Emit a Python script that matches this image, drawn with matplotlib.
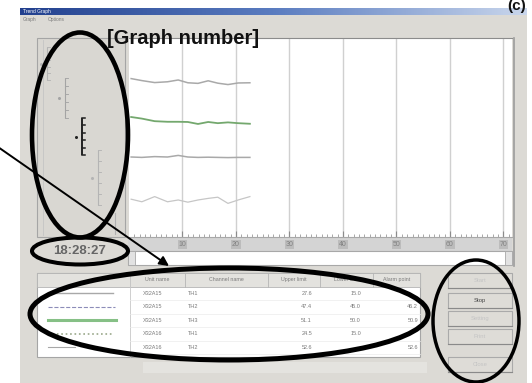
import numpy as np
import matplotlib
matplotlib.use('Agg')
import matplotlib.pyplot as plt
from matplotlib.patches import Rectangle, Ellipse
from matplotlib.colors import LinearSegmentedColormap

plt.rcParams['font.family'] = ['Liberation Sans', 'DejaVu Sans']

W, H = 532, 383

# trend data (elapsed time vs. level, 0-100 of the chart height)
elapsed = [0.4, 2.4, 4.8, 7.2, 9.2, 11.0, 12.9, 14.8, 16.6, 18.5, 20.4, 22.6]
ch1 = [79.6, 78.6, 77.6, 78.0, 78.9, 77.5, 77.2, 78.5, 77.3, 76.6, 77.4, 77.5]
ch2 = [60.3, 59.5, 58.2, 57.9, 57.9, 57.8, 56.8, 57.8, 57.2, 57.6, 57.2, 56.9]
ch3 = [40.2, 40.0, 40.4, 40.2, 41.0, 40.2, 40.0, 40.1, 40.0, 39.9, 40.0, 40.0]
ch4 = [19.0, 17.7, 20.3, 17.7, 18.6, 17.5, 18.6, 19.4, 20.0, 16.9, 18.6, 20.3]

x_ticks = [10, 20, 30, 40, 50, 60, 70]
x_tick_labels = ['10', '20', '30', '40', '50', '60', '70']

# table contents
headers = ['Unit name', 'Channel name', 'Upper limit', 'Lower limit', 'Alarm point']
unit_names = ['X32A15', 'X32A15', 'X32A15', 'X32A16', 'X32A16']
channel_names = ['TH1', 'TH2', 'TH3', 'TH1', 'TH2']
upper_limits = ['27.6', '47.4', '51.1', '24.5', '52.6']
lower_limits = ['15.0', '45.0', '50.0', '15.0', '']
alarm_points = ['', '46.2', '50.9', '', '52.6']
clock = '18:28:27'
buttons = ['Start', 'Stop', 'Setting', 'Print', 'Close']

WIN_BG = '#dcdad5'
GRAY_TXT = '#7a7a7a'

fig = plt.figure(figsize=(W / 100, H / 100), dpi=100)
fig.patch.set_facecolor('white')

# --- window chrome -------------------------------------------------------
ui = fig.add_axes([0, 0, 1, 1])
ui.add_patch(Rectangle((20, 8), 507, 375, fc=WIN_BG, ec='none'))

bar_cmap = LinearSegmentedColormap.from_list('bar', ['#22408e', '#5a7cc0', '#c9d6ec'])
ui.imshow(np.linspace(0, 1, 256)[None, :], cmap=bar_cmap, aspect='auto',
          extent=(20, 527, 15, 8), zorder=1)
ui.text(23, 11.5, 'Trend Graph', fontsize=3.5, color='white', va='center')
ui.text(23, 19, 'Graph', fontsize=3.5, color=GRAY_TXT, va='center')
ui.text(48, 19, 'Options', fontsize=3.5, color=GRAY_TXT, va='center')

# left scale panel
ui.add_patch(Rectangle((37, 38), 88, 199, fc='#d9d7d2', ec='#a5a5a5', lw=0.8))
ui.plot([43, 43], [40, 235], color='#c4c4c4', lw=0.6)
scale_x = [47, 65, 82, 98]
scale_top = [47, 78, 118, 150]
scale_bot = [80, 118, 155, 205]
scale_col = ['#b4b4b4', '#a4a4a4', '#222222', '#b4b4b4']
scale_lw = [0.8, 0.8, 1.4, 0.8]
for sx, st, sb, sc, slw in zip(scale_x, scale_top, scale_bot, scale_col, scale_lw):
    ui.plot([sx, sx], [st, sb], color=sc, lw=slw, solid_capstyle='butt')
    for ty in np.linspace(st, sb, 6):
        ui.plot([sx, sx + 3], [ty, ty], color=sc, lw=slw * 0.8)
    ui.plot(sx - 6, (st + sb) / 2, 'o', ms=2.2, color=sc, mec='none')
ui.plot([115, 115], [213, 234], color='#b0b0b0', lw=0.8)

ui.text(80, 251, clock, fontsize=9.5, fontweight='bold', color='#666666',
        ha='center', va='center')

# axis strip + scroll bar under chart
ui.add_patch(Rectangle((128, 237), 384, 14, fc='#d4d4d4', ec='none'))
ui.add_patch(Rectangle((128, 251), 384, 14, fc='white', ec='#a8a8a8', lw=0.8))
ui.add_patch(Rectangle((128, 251), 7, 14, fc='#e2e2e2', ec='#a8a8a8', lw=0.6))
ui.add_patch(Rectangle((505, 251), 7, 14, fc='#e2e2e2', ec='#a8a8a8', lw=0.6))
ui.plot([514, 514], [38, 266], color='#9c9c9c', lw=1.2)

# channel table
tab_l, tab_r, tab_t, head_b, row_h = 37, 420, 273, 286.5, 13.5
col_edges = [tab_l, 130, 185, 268, 320, 373, tab_r]
ui.add_patch(Rectangle((tab_l, tab_t), tab_r - tab_l, 84, fc='white', ec='#a5a5a5', lw=0.8))
ui.add_patch(Rectangle((tab_l, tab_t), tab_r - tab_l, head_b - tab_t, fc='#e3e2de', ec='#b5b5b5', lw=0.6))
ui.add_patch(Rectangle((143, 362), 284, 11, fc='#e4e3df', ec='none'))
for xe in col_edges[1:-1]:
    ui.plot([xe, xe], [tab_t, head_b], color='#b5b5b5', lw=0.6)
ui.plot([130, 130], [tab_t, 357], color='#c8c8c8', lw=0.6)
for i, hd in enumerate(headers):
    cx = (col_edges[i + 1] + col_edges[i + 2]) / 2
    ui.text(cx, (tab_t + head_b) / 2, hd, fontsize=3.8, color=GRAY_TXT, ha='center', va='center')

sample_styles = [('-', '#a8a8a8', 1.0), ('--', '#8c8cb8', 0.8), ('-', '#86c086', 2.2),
                 (':', '#9aa88a', 1.2), ('-', '#a8a8a8', 0.8)]
sample_len = [65, 67, 68, 65, 27]
for i in range(len(unit_names)):
    ry = head_b + (i + 0.5) * row_h
    ls, c, lw = sample_styles[i]
    ui.plot([48, 48 + sample_len[i]], [ry, ry], ls=ls, color=c, lw=lw)
    ui.plot([130, tab_r], [ry + row_h / 2, ry + row_h / 2], color='#ececec', lw=0.5)
    ui.text(143, ry, unit_names[i], fontsize=4, color=GRAY_TXT, va='center')
    ui.text(188, ry, channel_names[i], fontsize=4, color=GRAY_TXT, va='center')
    ui.text(312, ry, upper_limits[i], fontsize=4, color=GRAY_TXT, va='center', ha='right')
    ui.text(361, ry, lower_limits[i], fontsize=4, color=GRAY_TXT, va='center', ha='right')
    ui.text(418, ry, alarm_points[i], fontsize=4, color=GRAY_TXT, va='center', ha='right')

# buttons
btn_top = [273, 293, 311, 329, 357]
for bt, label in zip(btn_top, buttons):
    ui.add_patch(Rectangle((448, bt), 64, 15, fc='#dedcd7', ec='#aaaaaa', lw=0.8))
    ui.plot([448, 512], [bt + 15, bt + 15], color='#8a8a8a', lw=0.8)
    ui.text(480, bt + 7.5, label, fontsize=4.2, ha='center', va='center',
            color='#444444' if label == 'Stop' else '#c4c4c4')

ui.set_xlim(0, W)
ui.set_ylim(H, 0)
ui.axis('off')

# --- trend chart ---------------------------------------------------------
ax = fig.add_axes([129 / W, 1 - 237 / H, (512 - 129) / W, (237 - 38) / H])
ax.set_facecolor('white')
ax.plot(elapsed, ch1, color='#a9a9a9', lw=1.1)
ax.plot(elapsed, ch2, color='#74a86e', lw=1.3)
ax.plot(elapsed, ch3, color='#a9a9a9', lw=1.1)
ax.plot(elapsed, ch4, color='#c6c6c6', lw=0.9)
ax.set_xlim(0, 71.6)
ax.set_ylim(0, 100)
ax.set_xticks(x_ticks)
ax.set_xticklabels(x_tick_labels)
ax.set_xticks(np.arange(1, 72, 1), minor=True)
ax.set_yticks([])
ax.grid(axis='x', which='major', color='#d0d0d0', lw=1.0)
ax.tick_params(axis='x', which='major', direction='in', length=4, color='#8c8c8c',
               labelsize=5, labelcolor='#808080', pad=3)
ax.tick_params(axis='x', which='minor', direction='in', length=2, color='#9a9a9a')
for lab in ax.get_xticklabels():
    lab.set_bbox(dict(boxstyle='square,pad=0.1', fc='#bcbcbc', ec='none'))
for side in ['left', 'right']:
    ax.spines[side].set_visible(False)
ax.spines['top'].set_color('#8c8c8c')
ax.spines['bottom'].set_color('#a8a8a8')

# --- annotations overlay -------------------------------------------------
ov = fig.add_axes([0, 0, 1, 1])
ov.patch.set_alpha(0)
ov.text(107, 44, '[Graph number]', fontsize=14.5, fontweight='bold', color='#111111', va='baseline')
ov.text(507, 10, '(c)', fontsize=11, fontweight='bold', color='#111111', va='baseline')
ov.add_patch(Ellipse((80, 135), 96, 205, fill=False, ec='black', lw=3.3))
ov.add_patch(Ellipse((80, 251), 96, 27, fill=False, ec='black', lw=2.9))
ov.add_patch(Ellipse((229, 314), 398, 92, fill=False, ec='black', lw=3.6))
ov.add_patch(Ellipse((476, 321), 86, 122, fill=False, ec='black', lw=2.5))
ov.annotate('', xy=(169, 266), xytext=(-2, 147),
            arrowprops=dict(arrowstyle='-|>', color='black', lw=1.4, mutation_scale=14,
                            shrinkA=0, shrinkB=0))
ov.set_xlim(0, W)
ov.set_ylim(H, 0)
ov.axis('off')

fig.savefig('out.png', dpi=100)
